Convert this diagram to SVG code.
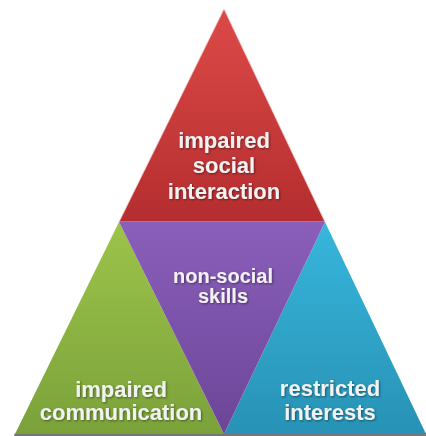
<svg xmlns="http://www.w3.org/2000/svg" width="426" height="436" viewBox="0 0 426 436">
  <defs>
    <linearGradient id="gRed" x1="0" y1="0" x2="0" y2="1">
      <stop offset="0" stop-color="#dc4a48"/>
      <stop offset="1" stop-color="#b52d2f"/>
    </linearGradient>
    <linearGradient id="gPurple" x1="0" y1="0" x2="0" y2="1">
      <stop offset="0" stop-color="#8a5fbb"/>
      <stop offset="1" stop-color="#6c4597"/>
    </linearGradient>
    <linearGradient id="gGreen" x1="0" y1="0" x2="0" y2="1">
      <stop offset="0" stop-color="#9cc44a"/>
      <stop offset="1" stop-color="#7ba23a"/>
    </linearGradient>
    <linearGradient id="gBlue" x1="0" y1="0" x2="0" y2="1">
      <stop offset="0" stop-color="#38b6dc"/>
      <stop offset="1" stop-color="#2792b5"/>
    </linearGradient>
    <filter id="shade" x="-10%" y="-20%" width="120%" height="150%">
      <feDropShadow dx="1" dy="1" stdDeviation="0.8" flood-color="#000" flood-opacity="0.45"/>
    </filter>
  </defs>
  <style>
    .label { font-family: "Liberation Sans", Arial, sans-serif; font-weight: bold; fill: #f2f2f2; text-anchor: middle; filter: url(#shade); }
    .big { font-size: 22px; }
    .small { font-size: 20px; }
  </style>

  <rect width="426" height="436" fill="#ffffff"/>

  <!-- base shadow under the pyramid -->
  <polygon points="15,433 426,433 426,436 14,436" fill="#4a4a4a" opacity="0.75"/>

  <g id="social">
    <polygon points="224,9 325,222 119,222" fill="url(#gRed)" stroke="#f4c6c4" stroke-width="0.8"/>
    <text class="label big" x="224" y="148">impaired</text>
    <text class="label big" x="224" y="173">social</text>
    <text class="label big" x="224" y="199">interaction</text>
  </g>

  <g id="communication">
    <polygon points="119,222 224,434 15,434" fill="url(#gGreen)"/>
    <text class="label big" x="121" y="397">impaired</text>
    <text class="label big" x="121" y="420">communication</text>
  </g>

  <g id="interests">
    <polygon points="325,222 426,434 224,434" fill="url(#gBlue)"/>
    <text class="label big" x="330" y="396">restricted</text>
    <text class="label big" x="330" y="420">interests</text>
  </g>

  <g id="nonsocial">
    <polygon points="119,222 325,222 224,434" fill="url(#gPurple)"/>
    <text class="label small" x="223" y="283">non-social</text>
    <text class="label small" x="223" y="303">skills</text>
  </g>
</svg>
